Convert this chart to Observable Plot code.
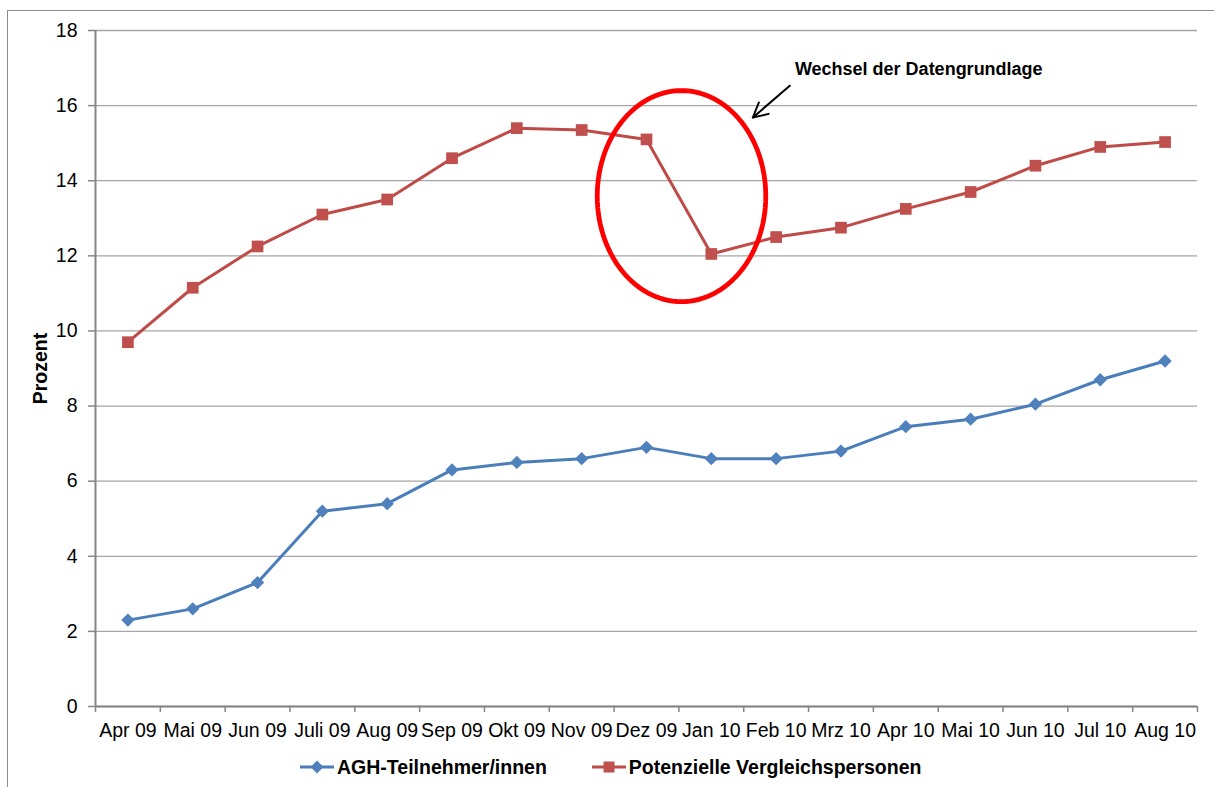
<!DOCTYPE html>
<html><head><meta charset="utf-8">
<script src="https://cdn.jsdelivr.net/npm/d3@7"></script>
<script src="https://cdn.jsdelivr.net/npm/@observablehq/plot@0.6"></script>
<style>
body{margin:0;background:#fff;font-family:"Liberation Sans",Arial,sans-serif;}
#wrap{position:relative;width:1214px;height:787px;overflow:hidden;}
#frame{position:absolute;left:7px;top:10px;width:1230px;height:800px;border-left:1.5px solid #8c8c8c;border-top:1.5px solid #8c8c8c;pointer-events:none;}
#legend{display:flex;align-items:center;height:30px;padding-left:300px;font-weight:bold;font-size:19.5px;color:#000;white-space:nowrap;}
#legend .item{display:flex;align-items:center;}
#legend .item svg{margin-right:3px;}
</style></head>
<body>
<div id="wrap"><div id="frame"></div><div id="chart"></div><div id="legend"></div></div>
<script>
const months = ["Apr 09","Mai 09","Jun 09","Juli 09","Aug 09","Sep 09","Okt 09","Nov 09","Dez 09","Jan 10","Feb 10","Mrz 10","Apr 10","Mai 10","Jun 10","Jul 10","Aug 10"];
const agh = [2.3,2.6,3.3,5.2,5.4,6.3,6.5,6.6,6.9,6.6,6.6,6.8,7.45,7.65,8.05,8.7,9.2];
const vergleich = [9.7,11.15,12.25,13.1,13.5,14.6,15.4,15.35,15.1,12.05,12.5,12.75,13.25,13.7,14.4,14.9,15.03];
const seriesNames = ["AGH-Teilnehmer/innen","Potenzielle Vergleichspersonen"];
const seriesColors = ["#4a7ebb","#be4b48"];
const markerColors = ["#4f81bd","#c0504d"];
const yTicks = [0,2,4,6,8,10,12,14,16,18];
const yLabel = "Prozent";
const annotationText = "Wechsel der Datengrundlage";

// annotation geometry in data space (x = month index)
const ellipse = {cx: 8.54, cy: 13.59, rx: 1.30, ry: 2.81};
const arrowSeg = [{x1: 10.21, y1: 16.53, x2: 9.64, y2: 15.68}];
const annotationPos = [{x: 12.2, y: 16.97, t: annotationText}];

const rows = months.map((m, i) => ({i, m, agh: agh[i], verg: vergleich[i]}));
const boundaries = d3.range(months.length + 1).map(k => k - 0.5);
const ellipsePts = d3.range(0, 360, 3).map(a => ({
  x: ellipse.cx + ellipse.rx * Math.cos(a * Math.PI / 180),
  y: ellipse.cy + ellipse.ry * Math.sin(a * Math.PI / 180)
}));

const chart = Plot.plot({
  width: 1214, height: 752,
  marginLeft: 95, marginRight: 17, marginTop: 30, marginBottom: 46,
  style: {fontFamily: "'Liberation Sans', Arial, sans-serif", fontSize: "19.5px", color: "#000", background: "transparent", overflow: "visible"},
  x: {type: "linear", domain: [-0.5, months.length - 0.5]},
  y: {domain: [0, 18]},
  marks: [
    Plot.gridY(yTicks, {stroke: "#a6a6a6", strokeOpacity: 1, strokeWidth: 1.3}),
    Plot.ruleY([0], {stroke: "#868686", strokeWidth: 2}),
    Plot.ruleX([-0.5], {stroke: "#868686", strokeWidth: 2}),
    Plot.axisY({ticks: yTicks, tickSize: 7, tickPadding: 11, stroke: "#868686", strokeWidth: 1.5, label: null}),
    Plot.axisX({ticks: boundaries, tickSize: 6, tickFormat: () => "", stroke: "#868686", strokeWidth: 1.5, label: null}),
    Plot.axisX({ticks: d3.range(months.length), tickSize: 0, tickPadding: 17, tickFormat: i => months[i], label: null}),
    Plot.text([yLabel], {frameAnchor: "left", textAnchor: "middle", dx: -55, rotate: -90, fontWeight: "bold"}),
    Plot.line(rows, {x: "i", y: "agh", stroke: seriesColors[0], strokeWidth: 3}),
    Plot.dot(rows, {x: "i", y: "agh", symbol: "diamond2", fill: markerColors[0], stroke: "none", r: 6}),
    Plot.line(rows, {x: "i", y: "verg", stroke: seriesColors[1], strokeWidth: 3}),
    Plot.dot(rows, {x: "i", y: "verg", symbol: "square", fill: markerColors[1], stroke: "none", r: 6.6}),
    Plot.line(ellipsePts, {x: "x", y: "y", stroke: "#ff0000", strokeWidth: 4.8, curve: "linear-closed"}),
    Plot.arrow(arrowSeg, {x1: "x1", y1: "y1", x2: "x2", y2: "y2", stroke: "#000", strokeWidth: 2, headLength: 13, headAngle: 55, bend: 0}),
    Plot.text(annotationPos, {x: "x", y: "y", text: "t", fontWeight: "bold", fontSize: 18, textAnchor: "middle"})
  ]
});
document.getElementById("chart").appendChild(chart);

// legend
const legend = d3.select("#legend");
seriesNames.forEach((name, k) => {
  const item = legend.append("div").attr("class", "item").style("margin-left", k ? "45px" : "0px");
  const svg = item.append("svg").attr("width", 34).attr("height", 16);
  svg.append("line").attr("x1", 0).attr("x2", 34).attr("y1", 8).attr("y2", 8).attr("stroke", seriesColors[k]).attr("stroke-width", 3);
  if (k === 0) svg.append("path").attr("d", "M17,1.5L23.5,8L17,14.5L10.5,8Z").attr("fill", markerColors[k]);
  else svg.append("rect").attr("x", 11.5).attr("y", 2.5).attr("width", 11).attr("height", 11).attr("fill", markerColors[k]);
  item.append("span").text(name);
});
</script>
</body></html>
